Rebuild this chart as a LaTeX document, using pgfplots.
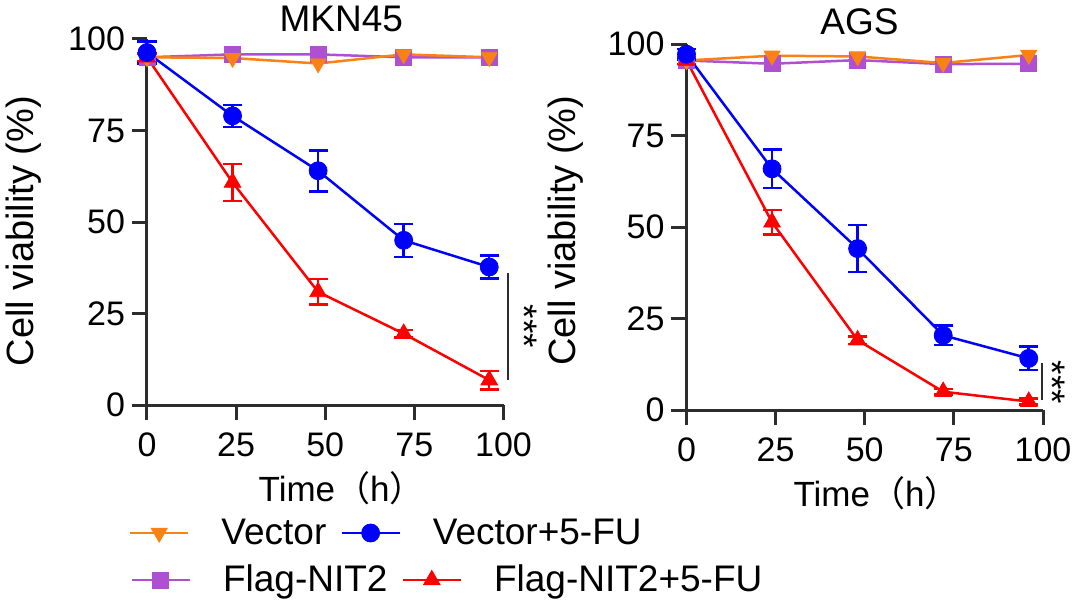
\documentclass[border=0pt]{standalone}
\usepackage{fontspec}
\setmainfont{Liberation Sans}
\newfontfamily\cjk{Noto Sans CJK SC}
\usepackage{pgfplots}
\usepackage{pgfplotstable}
\pgfplotsset{compat=1.18}
\definecolor{cOr}{RGB}{250,130,20}
\definecolor{cPu}{RGB}{175,80,210}
\definecolor{cBl}{RGB}{0,0,255}
\definecolor{cRe}{RGB}{255,0,0}
\definecolor{cAx}{RGB}{45,45,45}

% MKN45
\pgfplotstableread{
x y
0 95.0
24 94.8
48 93.3
72 95.8
96 95.0
}\mknVec
\pgfplotstableread{
x y
0 95.0
24 95.8
48 95.8
72 95.0
96 95.0
}\mknFlag
\pgfplotstableread{
x y e
0 96.3 3.0
24 79.0 3.0
48 64.0 5.6
72 45.0 4.5
96 37.7 3.2
}\mknVecFU
\pgfplotstableread{
x y e
0 95.0 1.0
24 60.8 5.0
48 30.9 3.5
72 19.5 1.0
96 6.8 2.5
}\mknFlagFU
% AGS
\pgfplotstableread{
x y
0 95.5
24 96.8
48 96.6
72 94.8
96 97.0
}\agsVec
\pgfplotstableread{
x y
0 95.5
24 94.6
48 95.6
72 94.5
96 94.6
}\agsFlag
\pgfplotstableread{
x y e
0 97.2 1.5
24 65.9 5.3
48 44.1 6.4
72 20.4 2.7
96 14.1 3.2
}\agsVecFU
\pgfplotstableread{
x y e
0 95.5 1.0
24 51.3 3.4
48 19.1 1.0
72 5.0 0.8
96 2.3 0.8
}\agsFlagFU

\tikzset{stars/.style={rotate=-90, font=\fontsize{18.5}{21}\selectfont, inner sep=0pt,
    text height=0.72em, text depth=0pt, anchor=center}}

\pgfplotsset{
  sVec/.style={color=cOr, line width=1.25pt, mark=triangle*, mark size=4.6pt,
    mark options={solid, rotate=180, fill=cOr, line width=0.4pt}},
  sFlag/.style={color=cPu, line width=1.25pt, mark=square*, mark size=4pt,
    mark options={solid, fill=cPu, line width=0.4pt}},
  sVecFU/.style={color=cBl, line width=1.25pt, mark=*, mark size=4.5pt,
    mark options={solid, fill=cBl, line width=0.4pt}},
  sFlagFU/.style={color=cRe, line width=1.25pt, mark=triangle*, mark size=4.8pt,
    mark options={solid, fill=cRe, line width=0.4pt}},
  ebar/.style={error bars/.cd, y dir=both, y explicit,
    error bar style={line width=1.25pt},
    error mark options={rotate=90, mark size=4.75pt, line width=1.25pt},
    /pgfplots/.cd},
  every axis title shift=0pt,
  panel/.style={
    scale only axis, width=178.25pt, height=183pt,
    xmin=0, xmax=100, ymin=0, ymax=100,
    axis x line*=bottom, axis y line*=left,
    axis line style={cAx, line width=1.5pt},
    xtick={0,25,50,75,100}, ytick={0,25,50,75,100},
    tick align=outside, major tick length=7.5pt,
    tick style={cAx, line width=1.5pt},
    ticklabel style={font=\fontsize{17}{20}\selectfont},
    xticklabel style={yshift=-3pt},
    /pgf/number format/assume math mode=true,
    clip=false,
    ylabel={Cell viability (\%)},
    ylabel style={font=\fontsize{19}{22}\selectfont, anchor=center},
    xlabel={Time{\cjk（}h{\cjk）}},
    xlabel style={font=\fontsize{17.5}{20}\selectfont, anchor=base},
    title style={font=\fontsize{18.5}{21}\selectfont, anchor=base},
    legend style={draw=none, fill=none, inner sep=0pt, outer sep=0pt, anchor=west,
      font=\fontsize{18.5}{21}\selectfont,
      /tikz/every odd column/.append style={column sep=16pt},
      /tikz/every even column/.append style={column sep=7pt},
      nodes={inner sep=0pt}},
    legend columns=2, legend cell align=left,
    legend image code/.code={\draw[mark repeat=2, mark phase=2]
      plot coordinates {(0pt,0pt) (14.5pt,0pt) (29pt,0pt)};},
  },
}

\begin{document}
\begin{tikzpicture}
\useasboundingbox (-73.5pt,-100pt) rectangle (466.5pt,202.5pt);
\begin{axis}[panel, at={(0pt,0pt)}, anchor=south west,
  title={MKN45}, title style={at={(axis description cs:0.545,1)}, yshift=3.5pt},
  ylabel style={at={(axis description cs:-0.3455,0.475)}},
  xlabel style={at={(axis description cs:0.546,-0.265)}},
  legend style={at={(axis description cs:-0.0506,-0.3497)}}]
  \addlegendimage{sVec}\addlegendentry{Vector}
  \addlegendimage{sVecFU}\addlegendentry{Vector+5-FU}
  \addplot[sFlag, forget plot] table[x=x, y=y] {\mknFlag};
  \addplot[sVec, forget plot] table[x=x, y=y] {\mknVec};
  \addplot[sFlagFU, forget plot, ebar] table[x=x, y=y, y error=e] {\mknFlagFU};
  \addplot[sVecFU, forget plot, ebar] table[x=x, y=y, y error=e] {\mknVecFU};
  \draw[cAx, line width=1pt] (axis cs:101.4,36.1) -- (axis cs:101.4,6.8);
  \node[stars] at (axis cs:104.3,21.5) {***};
\end{axis}
\begin{axis}[panel, at={(269.75pt,-2.5pt)}, anchor=south west,
  title={AGS}, title style={at={(axis description cs:0.485,1)}, yshift=5pt},
  ylabel style={at={(axis description cs:-0.34,0.49)}},
  xlabel style={at={(axis description cs:0.533,-0.265)}},
  legend style={at={(axis description cs:-1.5594,-0.4645)}}]
  \addlegendimage{sFlag}\addlegendentry{Flag-NIT2}
  \addlegendimage{sFlagFU}\addlegendentry{Flag-NIT2+5-FU}
  \addplot[sFlag, forget plot] table[x=x, y=y] {\agsFlag};
  \addplot[sVec, forget plot] table[x=x, y=y] {\agsVec};
  \addplot[sFlagFU, forget plot, ebar] table[x=x, y=y, y error=e] {\agsFlagFU};
  \addplot[sVecFU, forget plot, ebar] table[x=x, y=y, y error=e] {\agsVecFU};
  \draw[cAx, line width=1pt] (axis cs:99.7,12.8) -- (axis cs:99.7,2.7);
  \node[stars] at (axis cs:100.9,7.5) {***};
\end{axis}
\end{tikzpicture}
\end{document}
